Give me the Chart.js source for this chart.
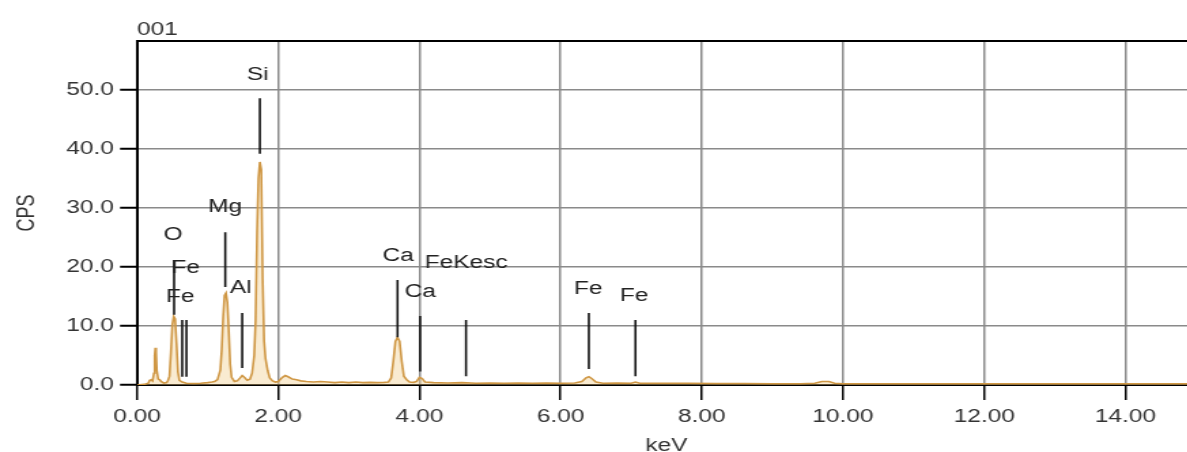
<!DOCTYPE html>
<html><head><meta charset="utf-8">
<script src="https://cdn.jsdelivr.net/npm/chart.js@4/dist/chart.umd.min.js"></script>
<style>
html,body{margin:0;padding:0;background:#fff;overflow:hidden;width:1187px;height:452px}
#wrap{position:absolute;left:0;top:0;width:885px;height:460px;transform:scaleX(1.36);transform-origin:0 0}
</style></head><body>
<div id="wrap"><canvas id="c"></canvas></div>
<script>
const chartTitle = '001';
const xTitle = 'keV';
const yTitle = 'CPS';
const xTicks = [0, 2, 4, 6, 8, 10, 12, 14];
const yTicks = [0, 10, 20, 30, 40, 50];

const energyKeV = [0.00,0.10,0.16,0.18,0.20,0.22,0.24,0.25,0.26,0.27,0.28,0.30,0.32,0.34,0.38,0.42,0.44,0.46,0.48,0.50,0.52,0.54,0.56,0.58,0.60,0.64,0.70,0.80,0.90,1.00,1.06,1.10,1.14,1.18,1.20,1.22,1.24,1.26,1.28,1.30,1.32,1.34,1.38,1.42,1.46,1.49,1.52,1.56,1.60,1.63,1.66,1.68,1.70,1.72,1.74,1.76,1.78,1.80,1.82,1.85,1.88,1.92,1.96,2.00,2.06,2.10,2.14,2.20,2.26,2.32,2.40,2.50,2.60,2.70,2.80,2.90,3.00,3.10,3.20,3.30,3.40,3.50,3.56,3.60,3.63,3.66,3.69,3.72,3.75,3.78,3.82,3.86,3.92,3.96,4.00,4.04,4.08,4.20,4.40,4.60,4.80,5.00,5.20,5.40,5.60,5.80,6.00,6.20,6.30,6.36,6.40,6.44,6.50,6.60,6.80,7.00,7.06,7.12,7.40,7.80,8.20,8.60,9.00,9.40,9.60,9.70,9.80,9.88,10.00,11.00,12.00,13.00,14.00,15.00];
const countsCPS = [0.0,0.1,0.3,0.8,0.9,0.7,2.0,5.0,6.3,5.5,2.5,1.0,0.9,0.6,0.3,0.4,0.8,1.5,5.5,10.2,11.6,11.2,7.0,2.2,0.8,0.5,0.3,0.25,0.3,0.4,0.5,0.6,0.9,2.5,6.0,11.5,15.2,15.6,14.0,9.0,3.5,1.3,0.6,0.7,1.2,1.6,1.3,0.8,1.0,2.0,5.0,11.0,25.8,35.0,37.8,36.5,18.0,7.5,4.5,2.5,1.2,0.7,0.5,0.6,1.3,1.6,1.4,1.0,0.9,0.7,0.6,0.5,0.6,0.5,0.4,0.5,0.4,0.5,0.4,0.45,0.4,0.45,0.5,1.2,4.0,7.4,8.1,7.4,4.0,1.5,0.9,0.5,0.45,0.6,1.3,1.1,0.5,0.4,0.35,0.4,0.3,0.35,0.3,0.35,0.3,0.35,0.3,0.35,0.6,1.2,1.4,1.1,0.5,0.3,0.35,0.3,0.5,0.3,0.3,0.3,0.25,0.25,0.2,0.2,0.3,0.6,0.6,0.3,0.2,0.2,0.2,0.2,0.2,0.2];

const markerKeV    = [0.525, 0.64, 0.70, 1.25, 1.49, 1.74, 3.69, 4.01, 4.66, 6.40, 7.06];
const markerBottom = [11.9, 1.4, 1.4, 16.6, 2.9, 39.2, 8.1, 2.3, 1.5, 2.7, 1.5];
const markerTop    = [21.2, 11.0, 11.0, 25.9, 12.2, 48.6, 17.8, 11.7, 11.0, 12.2, 11.0];

const labelText = ['O', 'Fe', 'Fe', 'Mg', 'Al', 'Si', 'Ca', 'Ca', 'FeKesc', 'Fe', 'Fe'];
const labelKeV  = [0.51, 0.69, 0.61, 1.25, 1.47, 1.71, 3.70, 4.01, 4.66, 6.39, 7.04];
const labelCPS  = [25.4, 19.8, 14.9, 30.2, 16.4, 52.5, 21.9, 15.8, 20.7, 16.3, 15.1];

const S = 1.36;
const FONT = "'Liberation Sans', Arial, sans-serif";

const spectrum = {
  type: 'line',
  data: energyKeV.map((e, i) => ({x: e, y: countsCPS[i]})),
  borderColor: '#cf9744',
  borderWidth: 1.6,
  backgroundColor: 'rgba(240,205,140,0.4)',
  fill: 'origin',
  pointRadius: 0,
  tension: 0,
  order: 2
};
const markers = markerKeV.map((e, i) => ({
  type: 'line',
  data: [{x: e, y: markerBottom[i]}, {x: e, y: markerTop[i]}],
  borderColor: '#111',
  borderWidth: 1.6,
  pointRadius: 0,
  fill: false,
  order: 1
}));

const decor = {
  id: 'decor',
  afterDatasetsDraw(chart) {
    const {ctx, scales: {x, y}} = chart;
    ctx.save();
    ctx.fillStyle = '#222';
    ctx.font = '18px ' + FONT;
    ctx.textAlign = 'center';
    ctx.textBaseline = 'middle';
    labelText.forEach((t, i) => {
      ctx.fillText(t, x.getPixelForValue(labelKeV[i]), y.getPixelForValue(labelCPS[i]));
    });
    ctx.restore();
  },
  afterDraw(chart) {
    const {ctx, chartArea: a} = chart;
    ctx.save();
    ctx.strokeStyle = '#000';
    ctx.lineWidth = 2;
    ctx.beginPath();
    ctx.moveTo(a.left, a.top);
    ctx.lineTo(a.right, a.top);
    ctx.stroke();
    ctx.fillStyle = '#333';
    ctx.font = '18px ' + FONT;
    ctx.textAlign = 'left';
    ctx.textBaseline = 'alphabetic';
    ctx.fillText(chartTitle, a.left, a.top - 6);
    ctx.restore();
  }
};

new Chart(document.getElementById('c'), {
  data: {datasets: [spectrum, ...markers]},
  options: {
    responsive: true,
    maintainAspectRatio: false,
    animation: false,
    events: [],
    layout: {padding: {top: 41, right: 885 - 1196 / S, left: 0, bottom: 0}},
    plugins: {legend: {display: false}, tooltip: {enabled: false}},
    scales: {
      x: {
        type: 'linear', min: 0, max: 15,
        afterBuildTicks: s => { s.ticks = xTicks.map(v => ({value: v})); },
        afterFit: s => { s.height = 460 - 385; },
        ticks: {callback: v => v.toFixed(2), color: '#333', font: {family: FONT, size: 18}, padding: 6, maxRotation: 0, autoSkip: false},
        grid: {color: '#8a8a8a', lineWidth: 1.5, tickColor: '#000', tickLength: 15, tickWidth: 1.5},
        border: {color: '#000', width: 2},
        title: {display: true, text: xTitle, color: '#333', font: {family: FONT, size: 18}, padding: {top: 0, bottom: 3}}
      },
      y: {
        type: 'linear', min: 0, max: 58.3,
        afterBuildTicks: s => { s.ticks = yTicks.map(v => ({value: v})); },
        afterFit: s => { s.width = 137 / S; },
        ticks: {callback: v => v.toFixed(1), color: '#333', font: {family: FONT, size: 18}, padding: 4.4},
        grid: {color: '#8a8a8a', lineWidth: 1.5, tickColor: '#000', tickLength: 12.5, tickWidth: 2},
        border: {color: '#000', width: 2},
        title: {display: true, text: yTitle, color: '#333', font: {family: FONT, size: 18}, padding: {top: 9, bottom: 0}}
      }
    }
  },
  plugins: [decor]
});
</script>
</body></html>
